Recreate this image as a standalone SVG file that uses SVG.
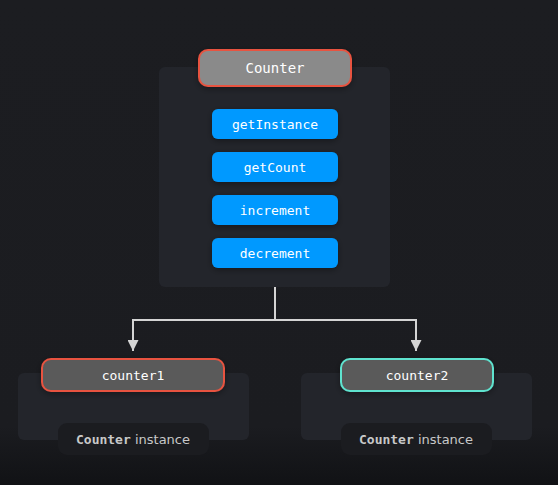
<svg xmlns="http://www.w3.org/2000/svg" width="558" height="485" viewBox="0 0 558 485">
<defs>
<linearGradient id="bg" x1="0" y1="0" x2="0" y2="1">
<stop offset="0" stop-color="#1c1d21"/>
<stop offset="0.88" stop-color="#1b1c20"/>
<stop offset="1" stop-color="#111215"/>
</linearGradient>
<marker id="arr" viewBox="0 0 10 10" refX="10" refY="5" markerWidth="11" markerHeight="11" orient="auto" markerUnits="userSpaceOnUse">
<path d="M0,0 L10,5 L0,10 z" fill="#d4d4d4"/>
</marker>
<filter id="sh" x="-20%" y="-40%" width="140%" height="200%">
<feDropShadow dx="0" dy="2" stdDeviation="3" flood-color="#000" flood-opacity="0.35"/>
</filter>
</defs>
<style>
.panel{fill:#23252b}
.mono{font-family:"DejaVu Sans Mono","Liberation Mono",monospace;fill:#ffffff;text-anchor:middle}
.method rect{fill:#0099ff}
.inst rect{fill:#5a5a5a;stroke-width:2}
.lbl rect{fill:#1b1c20}
.lbl text{font-family:"DejaVu Sans","Noto Sans",sans-serif;font-size:13px;fill:#c8c8c8;text-anchor:middle}
.lbl tspan.b{font-family:"DejaVu Sans Mono",monospace;font-weight:bold}
.conn{fill:none;stroke:#d4d4d4;stroke-width:2}
</style>
<rect x="0" y="0" width="558" height="485" fill="url(#bg)"/>

<g id="counter">
<rect class="panel" x="159" y="67" width="231" height="220" rx="6"/>
<rect x="199" y="50" width="152" height="36" rx="9" fill="#8a8a8a" stroke="#e8533f" stroke-width="2" filter="url(#sh)"/>
<text class="mono" x="275" y="73" font-size="14">Counter</text>
</g>
<g id="getInstance" class="method">
<rect x="212" y="109" width="126" height="30" rx="6" filter="url(#sh)"/>
<text class="mono" x="275" y="129" font-size="13">getInstance</text>
</g>
<g id="getCount" class="method">
<rect x="212" y="152" width="126" height="30" rx="6" filter="url(#sh)"/>
<text class="mono" x="275" y="172" font-size="13">getCount</text>
</g>
<g id="increment" class="method">
<rect x="212" y="195" width="126" height="30" rx="6" filter="url(#sh)"/>
<text class="mono" x="275" y="215" font-size="13">increment</text>
</g>
<g id="decrement" class="method">
<rect x="212" y="238" width="126" height="30" rx="6" filter="url(#sh)"/>
<text class="mono" x="275" y="258" font-size="13">decrement</text>
</g>

<g id="connectors">
<path class="conn" d="M275,287 V320 H133 V351" marker-end="url(#arr)"/>
<path class="conn" d="M275,320 H416 V351" marker-end="url(#arr)"/>
</g>

<g id="counter1">
<rect class="panel" x="18" y="373" width="231" height="67" rx="6"/>
<g class="inst">
<rect x="42" y="359" width="182" height="32" rx="9" stroke="#e8533f" filter="url(#sh)"/>
</g>
<text class="mono" x="133" y="380" font-size="13">counter1</text>
<g class="lbl">
<rect x="58" y="423" width="151" height="32" rx="9"/>
<text x="133" y="444"><tspan class="b">Counter</tspan> instance</text>
</g>
</g>

<g id="counter2">
<rect class="panel" x="301" y="373" width="231" height="67" rx="6"/>
<g class="inst">
<rect x="341" y="359" width="152" height="32" rx="9" stroke="#5fe3cf" filter="url(#sh)"/>
</g>
<text class="mono" x="417" y="380" font-size="13">counter2</text>
<g class="lbl">
<rect x="341" y="423" width="151" height="32" rx="9"/>
<text x="416" y="444"><tspan class="b">Counter</tspan> instance</text>
</g>
</g>
</svg>
